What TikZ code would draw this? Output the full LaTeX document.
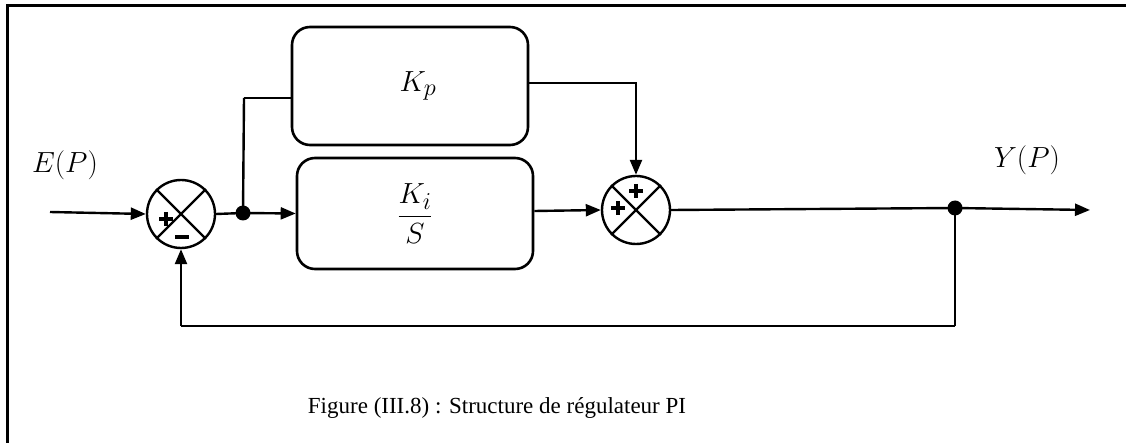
\documentclass[tikz,border=0pt]{standalone}
\usepackage{fontspec}
\setmainfont{Liberation Serif}
\usetikzlibrary{arrows.meta,calc}
\begin{document}
\begin{tikzpicture}[x=1pt,y=-1pt,
  conn/.style={line width=2.4pt},
  arr/.style={conn,-{Triangle[length=15pt,width=12pt]}},
  sumnode/.style={circle,draw,line width=2.4pt,minimum size=68pt,inner sep=0pt},
  blockbox/.style={draw,line width=2.6pt,rounded corners=18pt,minimum width=236pt,inner sep=0pt},
  dotnode/.style={circle,fill=black,minimum size=15pt,inner sep=0pt},
  mathlbl/.style={font=\fontsize{24.88}{30}\selectfont,scale=1.17},
  signline/.style={line width=3.6pt}
]
\useasboundingbox (0,0) rectangle (1126,443);
\fill[white] (0,0) rectangle (1126,443);
% frame (only top and left visible)
\draw[line width=2.8pt] (7.5,443) -- (7.5,5.5) -- (1126,5.5);

% summing junctions
\node[sumnode] (s1) at (181,214) {};
\draw[line width=2.2pt] (s1.north west) -- (s1.south east) (s1.north east) -- (s1.south west);
\node[sumnode] (s2) at (636,210) {};
\draw[line width=2.2pt] (s2.north west) -- (s2.south east) (s2.north east) -- (s2.south west);
% signs
\draw[signline] (159,219) -- (173,219) (166,212) -- (166,226);
\draw[signline] (175,237) -- (189,237);
\draw[signline] (629,191) -- (643,191) (636,184) -- (636,198);
\draw[signline] (611,208) -- (625,208) (618,201) -- (618,215);

% blocks
\node[blockbox,minimum height=118pt] (kp) at (410,86) {};
\node[mathlbl] (kplbl) at (418,86) {$K_p$};
\node[blockbox,minimum height=111pt] (ki) at (415,213.5) {};
\node[mathlbl] (kilbl) at (415,213.5) {$\displaystyle\frac{K_i}{S}$};

% labels
\node[mathlbl] (ep) at (65,165) {$E(P)$};
\node[mathlbl] (yp) at (1027,160) {$Y(P)$};

% points
\coordinate (in) at (50,212);
\node[dotnode] (d1) at (243,213) {};
\node[dotnode] (d2) at (955,208) {};
\coordinate (out) at (1090,210);
\coordinate (j) at (244,98);
\coordinate (fb) at (955,326);

% connectors
\draw[arr] (in) -- (s1.west);
\draw[conn] (s1.east) -- (d1.center);
\draw[arr] (d1.center) -- (ki.west);
\draw[conn] (d1.center) -- (j);
\draw[line width=1.2pt] (j) -- (j -| kp.west);
\draw[line width=1.8pt] (kp.east |- 0,83) -| (636,150);
\draw[arr] (636,150) -- (s2.north);
\draw[arr] (ki.east |- 0,211) -- (s2.west);
\draw[conn] (s2.east) -- (d2.center);
\draw[arr] (d2.center) -- (out);
\draw[conn] (d2.center) -- (fb);
\draw[line width=1.8pt] (fb) -- (fb -| s1.south);
\draw[arr] (fb -| s1.south) -- (s1.south);

% caption
\node[font=\fontsize{23}{27}\selectfont] (cap) at (497,408) {Figure (III.8) : Structure de régulateur PI};
\end{tikzpicture}
\end{document}
